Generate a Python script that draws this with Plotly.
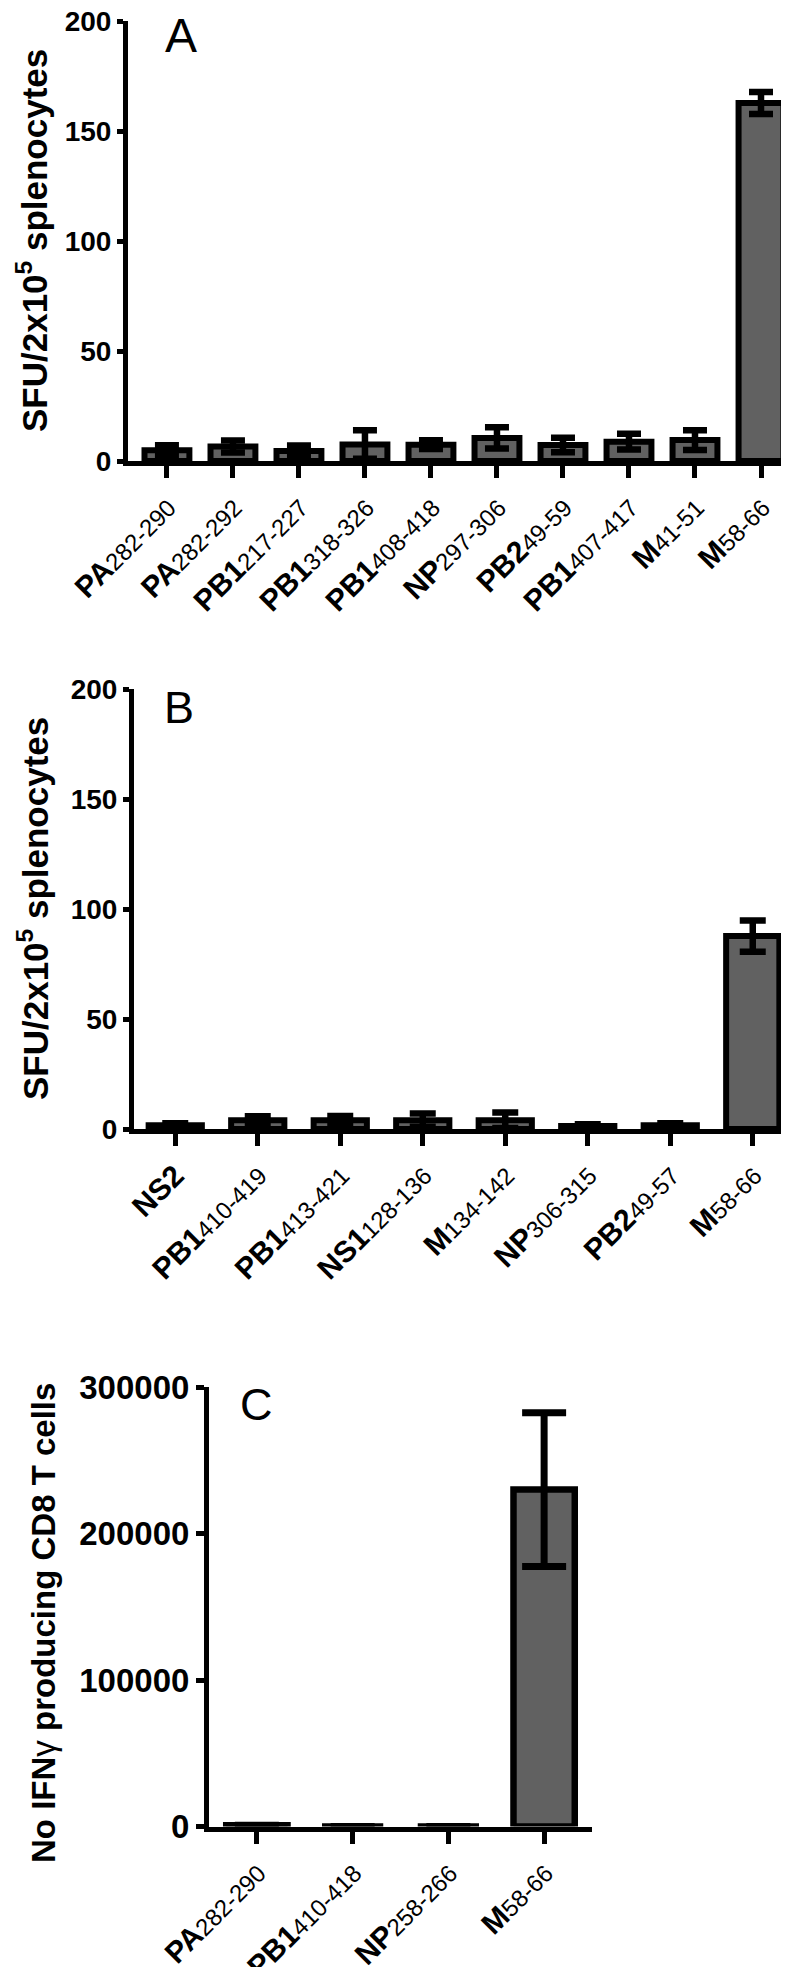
import plotly.graph_objects as go

FONT = "Liberation Sans, Arial, sans-serif"
W, H = 789, 1967

# ---------------- Panel A ----------------
a_names = ["PA", "PA", "PB1", "PB1", "PB1", "NP", "PB2", "PB1", "M", "M"]
a_ranges = ["282-290", "282-292", "217-227", "318-326", "408-418",
            "297-306", "49-59", "407-417", "41-51", "58-66"]
a_values = [4.9, 6.6, 4.5, 7.5, 7.4, 10.5, 7.3, 8.8, 9.5, 162.7]
a_errors = [2.3, 2.7, 2.6, 6.5, 2.0, 4.8, 3.3, 3.6, 4.5, 5.0]

# ---------------- Panel B ----------------
b_names = ["NS2", "PB1", "PB1", "NS1", "M", "NP", "PB2", "M"]
b_ranges = ["", "410-419", "413-421", "128-136", "134-142", "306-315", "49-57", "58-66"]
b_values = [1.7, 4.0, 4.0, 4.0, 4.0, 1.4, 1.7, 87.7]
b_errors = [0.9, 1.8, 1.9, 3.0, 3.5, 0.8, 0.9, 7.1]

# ---------------- Panel C ----------------
c_names = ["PA", "PB1", "NP", "M"]
c_ranges = ["282-290", "410-418", "258-266", "58-66"]
c_values = [800, 0, 0, 230000]
c_errors = [0, 0, 0, 52500]

y_title_ab = "SFU/2x10<sup>5</sup> splenocytes"
y_title_c = "<b>No IFN</b><span style='font-weight:normal'>γ</span><b> producing CD8 T cells</b>"

BAR_FILL = "#616161"


def cats(names, ranges):
    return [n + r for n, r in zip(names, ranges)]


def labels(names, ranges, sub_size):
    out = []
    for n, r in zip(names, ranges):
        t = "<b>%s</b>" % n
        if r:
            t += "<span style='font-size:%dpx'>%s</span>" % (sub_size, r)
        out.append(t)
    return out


def px_x(a, b):
    return [a / W, b / W]


def px_y(top, bottom):
    return [1 - bottom / H, 1 - top / H]


fig = go.Figure()

panels = [
    dict(names=a_names, ranges=a_ranges, vals=a_values, errs=a_errors,
         xa="x", ya="y", width=0.68, lw=6, ethick=6.5, ew=12),
    dict(names=b_names, ranges=b_ranges, vals=b_values, errs=b_errors,
         xa="x2", ya="y2", width=0.645, lw=6, ethick=6.5, ew=13),
    dict(names=c_names, ranges=c_ranges, vals=c_values, errs=c_errors,
         xa="x3", ya="y3", width=0.64, lw=6.5, ethick=7, ew=22),
]

for p in panels:
    fig.add_trace(go.Bar(
        x=cats(p["names"], p["ranges"]), y=p["vals"],
        width=p["width"],
        marker=dict(color=BAR_FILL, line=dict(color="black", width=p["lw"])),
        error_y=dict(type="data", array=p["errs"], visible=True, color="black",
                     thickness=p["ethick"], width=p["ew"]),
        xaxis=p["xa"], yaxis=p["ya"], showlegend=False, cliponaxis=False,
    ))

common_x = dict(showline=True, linecolor="black", linewidth=5, ticks="outside",
                tickcolor="black", tickwidth=5, showgrid=False, zeroline=False,
                tickangle=-45, type="category", tickmode="array", automargin=False,
                ticklabeloverflow="allow")
common_y = dict(showline=True, linecolor="black", linewidth=5, ticks="outside",
                tickcolor="black", tickwidth=5, showgrid=False, zeroline=False,
                automargin=False, ticklabeloverflow="allow")

XLAB_BOLD = 30
XLAB_SUB = 24

fig.update_layout(
    width=W, height=H, autosize=False,
    margin=dict(l=0, r=0, t=0, b=0, pad=0),
    paper_bgcolor="white", plot_bgcolor="white",
    xaxis=dict(common_x, domain=px_x(120, 786), anchor="y", range=[-0.59, 9.5],
               tickvals=cats(a_names, a_ranges), ticktext=labels(a_names, a_ranges, XLAB_SUB),
               ticklen=12, tickfont=dict(family=FONT, size=XLAB_BOLD, color="black")),
    yaxis=dict(common_y, domain=px_y(13, 453), anchor="x", range=[0, 200], dtick=50,
               ticklen=6, tickfont=dict(family=FONT, size=28, color="black", weight="bold")),
    xaxis2=dict(common_x, domain=px_x(126, 786), anchor="y2", range=[-0.5, 7.5],
                tickvals=cats(b_names, b_ranges), ticktext=labels(b_names, b_ranges, XLAB_SUB),
                ticklen=12, tickfont=dict(family=FONT, size=XLAB_BOLD, color="black")),
    yaxis2=dict(common_y, domain=px_y(681, 1121), anchor="x2", range=[0, 200], dtick=50,
                ticklen=6, tickfont=dict(family=FONT, size=28, color="black", weight="bold")),
    xaxis3=dict(common_x, domain=px_x(201, 584), anchor="y3", range=[-0.5, 3.5],
                tickvals=cats(c_names, c_ranges), ticktext=labels(c_names, c_ranges, XLAB_SUB),
                ticklen=12, tickfont=dict(family=FONT, size=XLAB_BOLD, color="black")),
    yaxis3=dict(common_y, domain=px_y(1379, 1818.5), anchor="x3", range=[0, 300000],
                dtick=100000, tickformat="d", ticklen=8,
                tickfont=dict(family=FONT, size=33, color="black", weight="bold")),
)

ann = [
    dict(text=y_title_ab, x=24 / W, y=1 - 233 / H, textangle=-90,
         font=dict(family=FONT, size=35, color="black", weight="bold")),
    dict(text=y_title_ab, x=25 / W, y=1 - 901 / H, textangle=-90,
         font=dict(family=FONT, size=35, color="black", weight="bold")),
    dict(text=y_title_c, x=35 / W, y=1 - 1615 / H, textangle=-90,
         font=dict(family=FONT, size=33, color="black")),
    dict(text="A", x=173 / W, y=1 - 28 / H, font=dict(family=FONT, size=48, color="black")),
    dict(text="B", x=171 / W, y=1 - 699 / H, font=dict(family=FONT, size=45, color="black")),
    dict(text="C", x=248 / W, y=1 - 1396 / H, font=dict(family=FONT, size=45, color="black")),
]
for a in ann:
    fig.add_annotation(xref="paper", yref="paper", showarrow=False,
                       xanchor="center", yanchor="middle", **a)

fig.write_html("out.html")
